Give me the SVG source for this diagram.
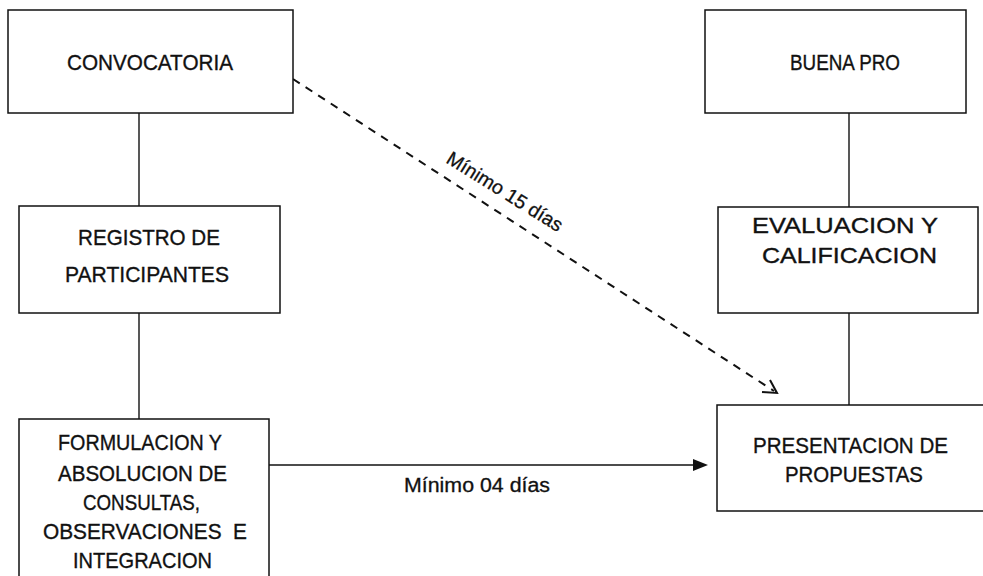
<svg xmlns="http://www.w3.org/2000/svg" width="983" height="576" viewBox="0 0 983 576">
  <style>
    .box { fill: #ffffff; stroke: #111111; stroke-width: 1.5; }
    .lbl { font-family: "Liberation Sans", Arial, sans-serif; font-size: 22px; fill: #111111; stroke: #111111; stroke-width: 0.35; }
    .note { font-family: "Liberation Sans", Arial, sans-serif; font-size: 19.5px; fill: #111111; stroke: #111111; stroke-width: 0.3; }
    .link { stroke: #111111; stroke-width: 1.4; fill: none; }
    .dash { stroke: #111111; stroke-width: 2; fill: none; stroke-dasharray: 8 7; }
  </style>
  <rect width="983" height="576" fill="#ffffff"/>

  <!-- connectors -->
  <g id="connectors">
    <line class="link" x1="139" y1="113" x2="139" y2="206"/>
    <line class="link" x1="139" y1="313" x2="139" y2="419"/>
    <line class="link" x1="849" y1="113" x2="849" y2="207"/>
    <line class="link" x1="849" y1="313" x2="849" y2="405"/>
    <!-- consultation period arrow -->
    <line class="link" x1="269" y1="465" x2="695" y2="465"/>
    <polygon points="708,465 693,459 693,471" fill="#111111"/>
    <text class="note" x="404" y="492" textLength="146" lengthAdjust="spacingAndGlyphs">Mínimo 04 días</text>
    <!-- call-to-proposals minimum period -->
    <line class="dash" x1="293" y1="79" x2="774" y2="391"/>
    <path d="M770,380 L777,393 L762,392" stroke="#111111" stroke-width="2" fill="none"/>
    <text class="note" transform="translate(445,162) rotate(32)" textLength="133" lengthAdjust="spacingAndGlyphs">Mínimo 15 días</text>
  </g>

  <g id="convocatoria">
    <rect class="box" x="8" y="10" width="285" height="103"/>
    <text class="lbl" x="67" y="70" textLength="166" lengthAdjust="spacingAndGlyphs">CONVOCATORIA</text>
  </g>

  <g id="registro">
    <rect class="box" x="19" y="206" width="261" height="107"/>
    <text class="lbl" x="78" y="245" textLength="142" lengthAdjust="spacingAndGlyphs">REGISTRO DE</text>
    <text class="lbl" x="65" y="282" textLength="164" lengthAdjust="spacingAndGlyphs">PARTICIPANTES</text>
  </g>

  <g id="formulacion">
    <rect class="box" x="19" y="419" width="250" height="180"/>
    <text class="lbl" x="58" y="450" textLength="164" lengthAdjust="spacingAndGlyphs">FORMULACION Y</text>
    <text class="lbl" x="58" y="481" textLength="169" lengthAdjust="spacingAndGlyphs">ABSOLUCION DE</text>
    <text class="lbl" x="83" y="510" textLength="117" lengthAdjust="spacingAndGlyphs">CONSULTAS,</text>
    <text class="lbl" x="43" y="539" textLength="204" lengthAdjust="spacingAndGlyphs" xml:space="preserve">OBSERVACIONES  E</text>
    <text class="lbl" x="73" y="568" textLength="139" lengthAdjust="spacingAndGlyphs">INTEGRACION</text>
  </g>

  <g id="buena-pro">
    <rect class="box" x="705" y="10" width="261" height="103"/>
    <text class="lbl" x="790" y="70" textLength="110" lengthAdjust="spacingAndGlyphs">BUENA PRO</text>
  </g>

  <g id="evaluacion">
    <rect class="box" x="718" y="207" width="260" height="106"/>
    <text class="lbl" x="752" y="233" textLength="186" lengthAdjust="spacingAndGlyphs">EVALUACION Y</text>
    <text class="lbl" x="762" y="263" textLength="175" lengthAdjust="spacingAndGlyphs">CALIFICACION</text>
  </g>

  <g id="presentacion">
    <rect class="box" x="717" y="405" width="290" height="106"/>
    <text class="lbl" x="753" y="453" textLength="195" lengthAdjust="spacingAndGlyphs">PRESENTACION DE</text>
    <text class="lbl" x="785" y="482" textLength="138" lengthAdjust="spacingAndGlyphs">PROPUESTAS</text>
  </g>
</svg>
